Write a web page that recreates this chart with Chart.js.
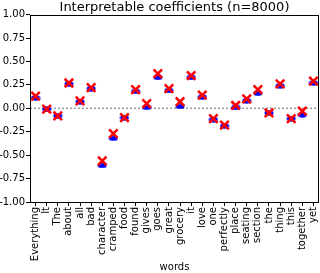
<!DOCTYPE html>
<html>
<head>
<meta charset="utf-8">
<script src="https://cdn.jsdelivr.net/npm/chart.js@4"></script>
<style>
  html, body { margin: 0; padding: 0; background: #fff; }
</style>
</head>
<body>
<canvas id="coefChart" width="320" height="273"></canvas>
<script>
// data
const words = ['Everything', 'It', 'The', 'about', 'all', 'bad', 'character', 'cramped', 'food', 'found',
  'gives', 'goes', 'great', 'grocery', 'it', 'love', 'one', 'perfectly', 'place', 'seating',
  'section', 'the', 'thing', 'this', 'together', 'yet'];
const redValues = [0.13, -0.01, -0.08, 0.27, 0.08, 0.22, -0.56, -0.27, -0.10, 0.20,
  0.05, 0.37, 0.21, 0.07, 0.35, 0.14, -0.11, -0.18, 0.03, 0.10,
  0.20, -0.05, 0.26, -0.11, -0.03, 0.29];
const blueValues = [0.11, -0.01, -0.08, 0.26, 0.07, 0.21, -0.61, -0.32, -0.10, 0.18,
  0.01, 0.33, 0.19, 0.02, 0.33, 0.12, -0.12, -0.19, 0.01, 0.08,
  0.16, -0.05, 0.24, -0.11, -0.07, 0.27];
const yTicks = [-1, -0.75, -0.5, -0.25, 0, 0.25, 0.5, 0.75, 1];

// blue ellipse marker
const ell = document.createElement('canvas');
ell.width = 10; ell.height = 6;
const ec = ell.getContext('2d');
ec.fillStyle = '#0000ff';
ec.beginPath();
ec.ellipse(5, 3, 4.5, 2.7, 0, 0, Math.PI * 2);
ec.fill();

const noPadding = () => ({ left: 0, right: 0, top: 0, bottom: 0 });

// dotted zero line + box around the axes
const framePlugin = {
  id: 'frame',
  beforeDatasetsDraw(chart) {
    const ctx = chart.ctx;
    const a = chart.chartArea;
    const y0 = chart.scales.y.getPixelForValue(0);
    ctx.save();
    ctx.strokeStyle = '#999999';
    ctx.lineWidth = 1.5;
    ctx.setLineDash([2, 2]);
    ctx.beginPath();
    ctx.moveTo(a.left, y0);
    ctx.lineTo(a.right, y0);
    ctx.stroke();
    ctx.restore();
  },
  afterDraw(chart) {
    const ctx = chart.ctx;
    const a = chart.chartArea;
    ctx.save();
    ctx.strokeStyle = '#000';
    ctx.lineWidth = 1;
    ctx.strokeRect(Math.round(a.left) + 0.5, Math.round(a.top) + 0.5,
      Math.round(a.right - a.left) - 1, Math.round(a.bottom - a.top));
    ctx.restore();
  }
};

const ctx = document.getElementById('coefChart').getContext('2d');
new Chart(ctx, {
  type: 'line',
  data: {
    labels: words,
    datasets: [{
      label: 'explanation',
      data: redValues,
      showLine: false,
      pointStyle: 'crossRot',
      pointRadius: 6,
      pointBorderWidth: 2.5,
      borderColor: '#ff0000',
      backgroundColor: '#ff0000',
      order: 0
    }, {
      label: 'model',
      data: blueValues,
      showLine: false,
      pointStyle: ell,
      borderColor: '#0000ff',
      backgroundColor: '#0000ff',
      order: 1
    }]
  },
  options: {
    responsive: false,
    animation: false,
    devicePixelRatio: 1,
    layout: { autoPadding: false, padding: { left: 0, right: 1, top: 0, bottom: 0 } },
    plugins: {
      legend: { display: false },
      tooltip: { enabled: false },
      title: {
        display: true,
        text: 'Interpretable coefficients (n=8000)',
        fullSize: false,
        color: '#000',
        font: { family: 'DejaVu Sans', size: 13, weight: 'normal' },
        padding: { top: 0, bottom: -1 }
      }
    },
    scales: {
      x: {
        offset: true,
        border: { display: false },
        grid: { display: true, drawOnChartArea: false, drawTicks: true, tickLength: 4, color: '#000' },
        ticks: {
          autoSkip: false,
          minRotation: 90,
          maxRotation: 90,
          padding: 1,
          color: '#000',
          font: { family: 'DejaVu Sans', size: 10 }
        },
        title: {
          display: true,
          text: 'words',
          color: '#000',
          padding: { top: 2, bottom: 0 },
          font: { family: 'DejaVu Sans', size: 10 }
        },
        afterFit(scale) {
          scale.height = 71;
          scale.getPadding = noPadding;
        }
      },
      y: {
        min: -1,
        max: 1,
        border: { display: false },
        afterBuildTicks(scale) { scale.ticks = yTicks.map(v => ({ value: v })); },
        grid: { display: true, drawOnChartArea: false, drawTicks: true, tickLength: 4, color: '#000' },
        ticks: {
          padding: 1,
          color: '#000',
          font: { family: 'DejaVu Sans', size: 10 },
          callback: v => v.toFixed(2)
        },
        afterFit(scale) {
          scale.width = 30;
          scale.getPadding = noPadding;
        }
      }
    }
  },
  plugins: [framePlugin]
});
</script>
</body>
</html>
